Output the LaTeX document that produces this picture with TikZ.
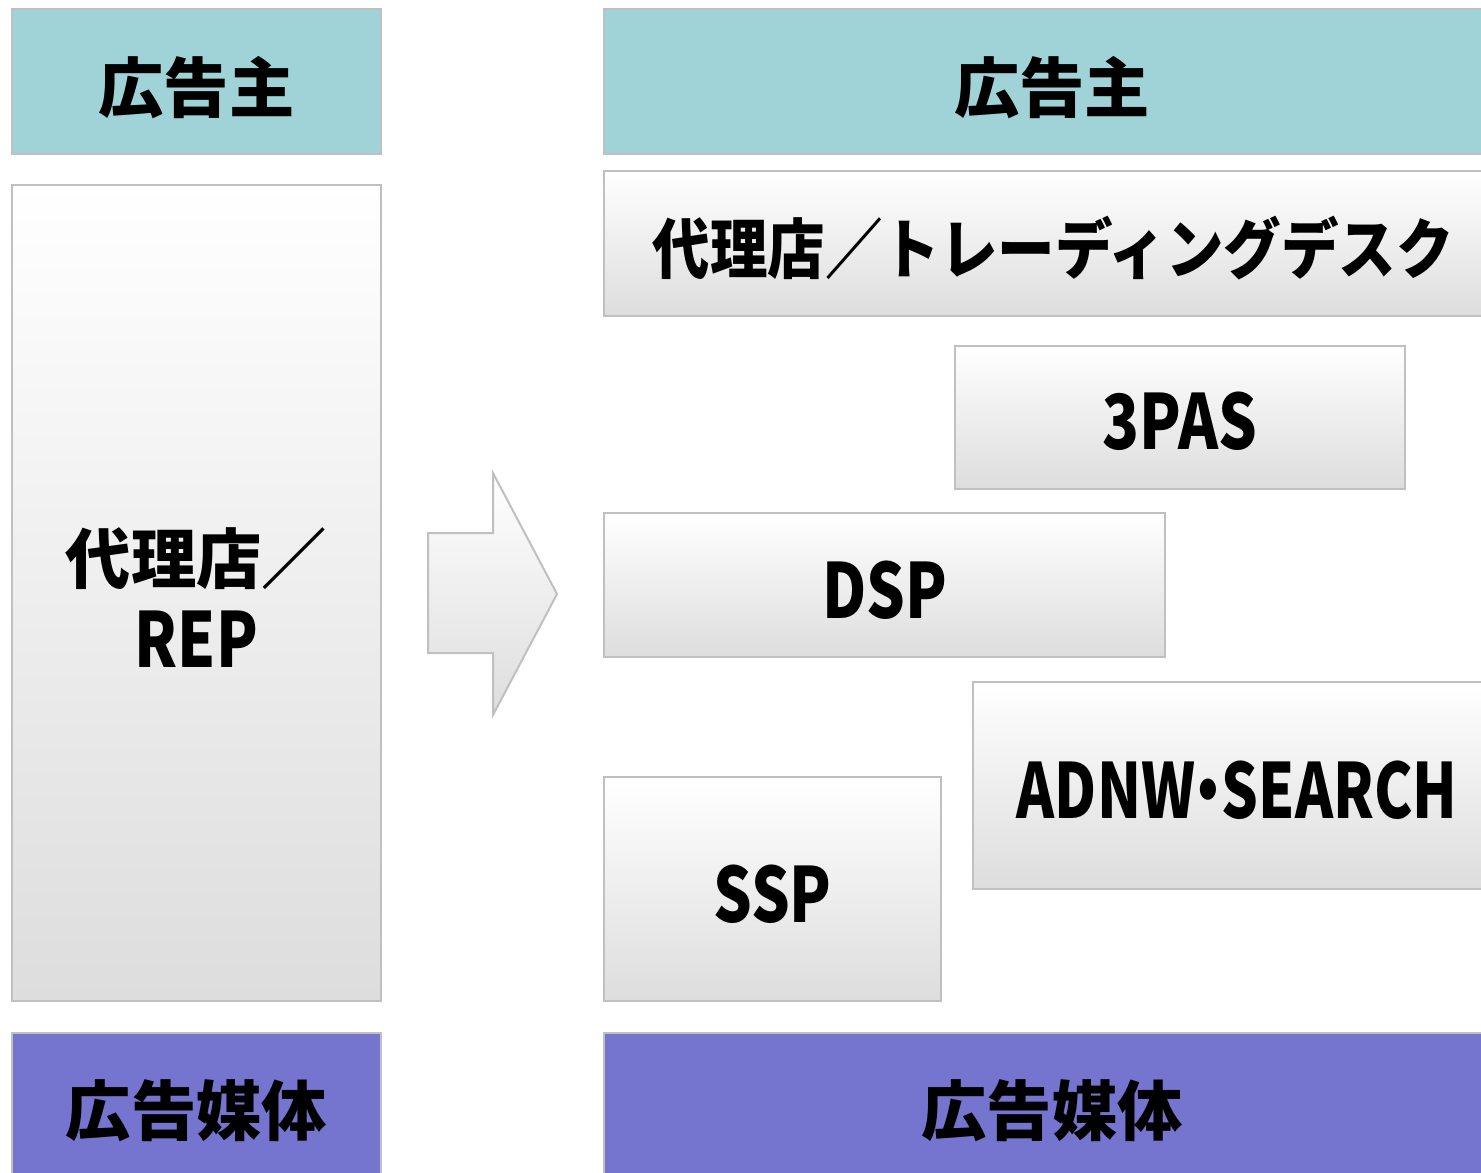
\documentclass[tikz,border=0pt]{standalone}
\usepackage{fontspec}
\newfontfamily\jp{Noto Sans CJK JP}
\usetikzlibrary{fit}
\definecolor{advcol}{RGB}{160,211,215}
\definecolor{medcol}{RGB}{117,116,207}
\definecolor{edgecol}{RGB}{192,192,192}
\definecolor{gbot}{RGB}{221,221,221}
\newcommand\narrowtxt[1]{\scalebox{0.8}[1]{#1}}
\newcommand\condtxt[1]{\scalebox{0.88}[1]{#1}}
\tikzset{
  box/.style={draw=edgecol, line width=1.5pt, inner sep=0pt},
  advbox/.style={box, fill=advcol},
  medbox/.style={box, fill=medcol},
  grbox/.style={box, top color=white, bottom color=gbot},
  jptext/.style={font=\jp\bfseries\fontsize{49}{58}\selectfont, inner sep=0pt},
  lattext/.style={font=\jp\bfseries\fontsize{57}{60}\selectfont, inner sep=0pt},
  bigarrow/.style={draw=edgecol, line width=1.5pt, top color=white, bottom color=gbot, line join=miter}
}
\begin{document}
\begin{tikzpicture}[x=0.75pt,y=-0.75pt]
\useasboundingbox (0,0) rectangle (1481,1172);
\clip (0,0) rectangle (1481,1172);
\fill[white] (0,0) rectangle (1481,1172);
% left column
\node[advbox, fit={(12,9) (381,154)}] (ladv) {};
\node[jptext] (ladvt) at (196.5,88) {広告主};
\node[grbox, fit={(12,185) (381,1001)}] (lrep) {};
\node[jptext] (lrept1) at (196.5,559) {代理店／};
\node[lattext] (lrept2) at (196.5,639) {\narrowtxt{REP}};
\node[medbox, fit={(12,1033) (381,1195)}] (lmed) {};
\node[jptext] (lmedt) at (196.5,1111) {広告媒体};
% arrow
\draw[bigarrow] (428,533) -- (493,533) -- (493,473) -- (557,594) -- (493,715) -- (493,653) -- (428,653) -- cycle;
% right column
\node[advbox, fit={(604,9) (1500,154)}] (radv) {};
\node[jptext] (radvt) at (1052,88) {広告主};
\node[grbox, fit={(604,171) (1500,316)}] (rag) {};
\node[jptext] (ragt) at (1053,248) {\condtxt{代理店／トレーディングデスク}};
\node[grbox, fit={(955,346) (1405,489)}] (pas) {};
\node[lattext] (past) at (1180,421) {\narrowtxt{3PAS}};
\node[grbox, fit={(604,513) (1165,657)}] (dsp) {};
\node[lattext] (dspt) at (884.5,590) {\narrowtxt{DSP}};
\node[grbox, fit={(973,682) (1500,889)}] (adnw) {};
\node[lattext] (adnwt) at (1237,790) {\scalebox{0.76}[1]{ADNW\kern-0.27em・\kern-0.27em SEARCH}};
\node[grbox, fit={(604,777) (941,1001)}] (ssp) {};
\node[lattext] (sspt) at (772.5,894) {\narrowtxt{SSP}};
\node[medbox, fit={(604,1033) (1500,1195)}] (rmed) {};
\node[jptext] (rmedt) at (1052,1111) {広告媒体};
\end{tikzpicture}
\end{document}
